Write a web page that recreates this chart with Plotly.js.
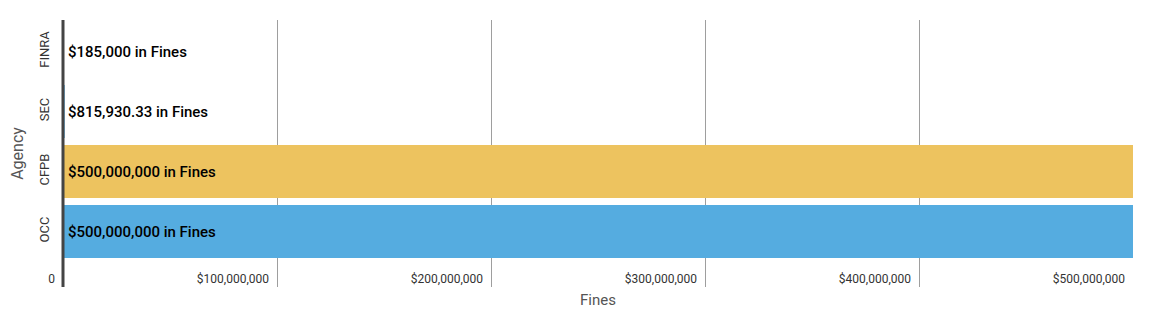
<!DOCTYPE html>
<html>
<head>
<meta charset="utf-8">
<script src="https://cdn.plot.ly/plotly-3.0.1.min.js"></script>
<style>
html,body{margin:0;padding:0;background:#fff;}
#chart{width:1165px;height:309px;}
</style>
</head>
<body>
<div id="chart"></div>
<script>
const agencies = ["OCC", "CFPB", "SEC", "FINRA"];
const fines = [500000000, 500000000, 815930.33, 185000];
const fineLabels = ["$500,000,000 in Fines", "$500,000,000 in Fines", "$815,930.33 in Fines", "$185,000 in Fines"];
const barColors = ["#55ace0", "#edc35f", "#55ace0", "#5db9ad"];
const tickVals = [0, 100000000, 200000000, 300000000, 400000000, 500000000];
const tickText = ["0", "$100,000,000", "$200,000,000", "$300,000,000", "$400,000,000", "$500,000,000"];
const xTitle = "Fines";
const yTitle = "Agency";

const trace = {
  type: "bar",
  orientation: "h",
  y: agencies,
  x: fines,
  width: 0.88,
  marker: {color: barColors},
  hoverinfo: "none"
};

const annotations = agencies.map((a, i) => ({
  x: 0, y: a, xref: "x", yref: "y",
  text: fineLabels[i],
  showarrow: false,
  xanchor: "left", yanchor: "middle",
  xshift: 3,
  font: {family: "Roboto, sans-serif", size: 15, color: "#000", weight: 500}
}));
annotations.push({
  x: 0.5, y: 0, xref: "paper", yref: "paper",
  text: xTitle, showarrow: false,
  xanchor: "center", yanchor: "top", yshift: -2,
  font: {family: "Roboto, sans-serif", size: 15, color: "#555"}
});

const layout = {
  width: 1165, height: 309,
  margin: {l: 63, r: 32, t: 20, b: 22},
  paper_bgcolor: "#fff", plot_bgcolor: "#fff",
  showlegend: false,
  font: {family: "Roboto, sans-serif", color: "#333"},
  xaxis: {
    range: [0, 500000000],
    tickvals: tickVals, ticktext: tickText,
    ticklabelposition: "inside left",
    ticklabeloverflow: "allow",
    ticklabelstandoff: -4,
    ticklabelshift: -8,
    tickfont: {size: 12, color: "#333"},
    showgrid: true, gridcolor: "#9e9e9e", gridwidth: 1,
    zeroline: false, showline: false, ticks: "",
    automargin: false
  },
  yaxis: {
    type: "category",
    categoryorder: "array", categoryarray: agencies,
    range: [-0.925, 3.525],
    tickangle: -90,
    ticklabelstandoff: 10,
    tickfont: {size: 13, color: "#333"},
    showgrid: false, zeroline: false, showline: false, ticks: "",
    automargin: false,
    title: {text: yTitle, font: {size: 16, color: "#555"}, standoff: 9}
  },
  shapes: [{
    type: "line", xref: "paper", yref: "paper",
    x0: 0, x1: 0, y0: 0, y1: 1,
    line: {color: "#444", width: 3},
    layer: "above"
  }],
  annotations: annotations
};

Plotly.newPlot("chart", [trace], layout, {displayModeBar: false, staticPlot: true});
</script>
</body>
</html>
